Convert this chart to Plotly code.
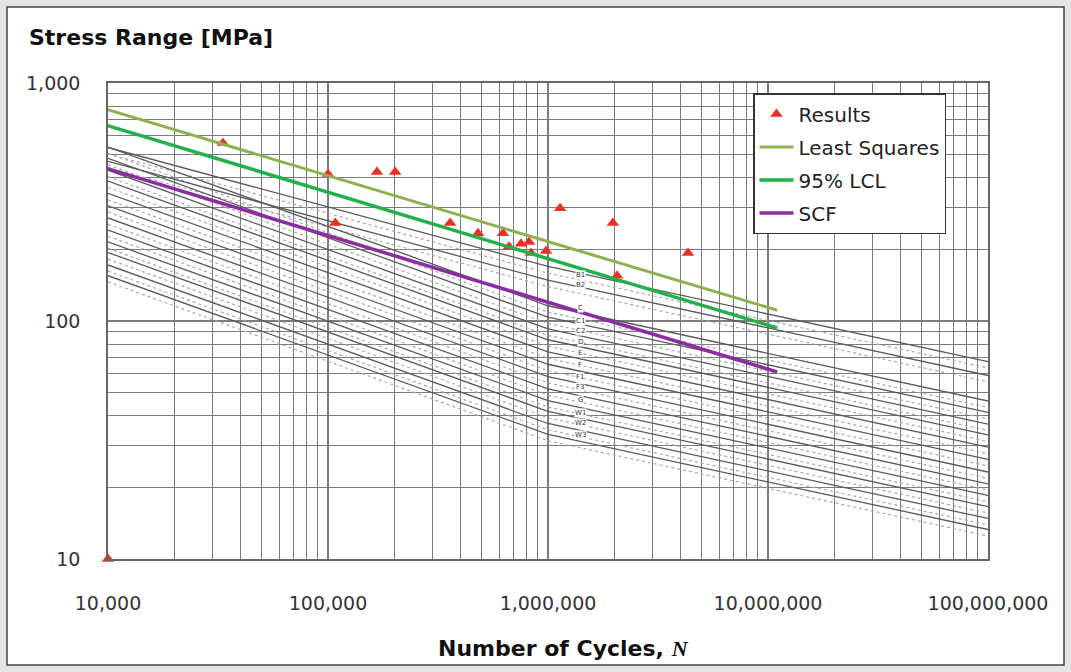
import math
import plotly.graph_objects as go

# ---------------- data ----------------
# Test results (cycles, stress range MPa)
res_N = [10000, 33300, 100000, 167000, 202000, 108000, 359000, 481000, 624000,
         665000, 754000, 820000, 838000, 980000, 1135000, 1973000, 2060000, 4330000]
res_S = [10, 560, 415, 423, 423, 258, 258, 234, 234,
         205, 211, 215, 193, 197, 298, 258, 155, 193]

# Fitted lines (end points)
ls_N = [9400, 11000000]
ls_S = [785, 111]
lcl_N = [9400, 11000000]
lcl_S = [673, 93.5]
scf_N = [9400, 11000000]
scf_S = [444, 61.1]

# Design S-N class curves: stress at N = 1e4, 1e6 (knee), 1e8
sn_names = ["B1", "B2", "C", "C1", "C2", "D", "E", "F", "F1", "F3", "G", "W1", "W2", "W3"]
sn_N = [1e4, 1e6, 1e8]
sn_solid = [
    [536, 169.5, 67.5], [469, 148.4, 59.0], [538, 115.9, 46.1], [482, 103.8, 41.3],
    [430, 92.6, 36.9], [387, 83.4, 33.2], [344, 74.1, 29.5], [305, 65.8, 26.2],
    [271, 58.4, 23.2], [241, 51.9, 20.7], [215, 46.3, 18.5], [194, 41.7, 16.6],
    [172, 37.1, 14.8], [155, 33.4, 13.3],
]
sn_dotted = [
    [504, 159, 63.5], [441, 139.5, 55.5], [506, 109, 43.3], [453, 97.6, 38.8],
    [404, 87.0, 34.7], [364, 78.4, 31.2], [323, 69.7, 27.7], [287, 61.9, 24.6],
    [255, 54.9, 21.8], [227, 48.8, 19.5], [202, 43.5, 17.4], [182, 39.2, 15.6],
    [162, 34.9, 13.9], [146, 31.4, 12.5],
]
# class label positions
lab_N = 1400000
lab_S = [156, 141.6, 113.5, 100, 90.8, 81.6, 73.4, 65.4, 58.2, 52.8, 46.6, 41.1, 37.3, 33.2]

x_ticks = [1e4, 1e5, 1e6, 1e7, 1e8]
x_ticktext = ["10,000", "100,000", "1,000,000", "10,000,000", "100,000,000"]
y_ticks = [10, 100, 1000]
y_ticktext = ["10", "100", "1,000"]

# ---------------- figure ----------------
FONT = "DejaVu Sans"
fig = go.Figure()

for vals in sn_dotted:
    fig.add_trace(go.Scatter(x=sn_N, y=vals, mode="lines", showlegend=False,
                             line=dict(color="#a8a8a8", width=1.2, dash="dot"),
                             hoverinfo="skip"))
for vals in sn_solid:
    fig.add_trace(go.Scatter(x=sn_N, y=vals, mode="lines", showlegend=False,
                             line=dict(color="#5a5a5a", width=1.3),
                             hoverinfo="skip"))

fig.add_trace(go.Scatter(x=res_N, y=res_S, mode="markers", name="Results", legendgroup="a",
                         marker=dict(symbol="triangle-up", size=11, color="#ec2f24"),
                         cliponaxis=False))
fig.add_trace(go.Scatter(x=ls_N, y=ls_S, mode="lines", name="Least Squares", legendgroup="b",
                         line=dict(color="#8db050", width=3)))
fig.add_trace(go.Scatter(x=lcl_N, y=lcl_S, mode="lines", name="95% LCL", legendgroup="c",
                         line=dict(color="#22b04b", width=3.5)))
fig.add_trace(go.Scatter(x=scf_N, y=scf_S, mode="lines", name="SCF", legendgroup="d",
                         line=dict(color="#8a2d9f", width=3.5)))

for name, s in zip(sn_names, lab_S):
    fig.add_annotation(x=math.log10(lab_N), y=math.log10(s), xref="x", yref="y",
                       text=name, showarrow=False,
                       font=dict(size=7, color="#333", family=FONT),
                       bgcolor="white", borderpad=0)

grid_col = "#7c7c7c"
fig.update_xaxes(type="log", range=[4, 8], tickvals=x_ticks, ticktext=x_ticktext,
                 showgrid=True, gridcolor=grid_col, gridwidth=1.6,
                 minor=dict(dtick="D1", showgrid=True, gridcolor=grid_col, gridwidth=1.4),
                 showline=True, linecolor="#666", linewidth=1.5, mirror=True,
                 ticks="", ticklabelstandoff=26, zeroline=False,
                 tickfont=dict(family=FONT, size=19, color="#333"))
fig.update_yaxes(type="log", range=[1, 3], tickvals=y_ticks, ticktext=y_ticktext,
                 showgrid=True, gridcolor=grid_col, gridwidth=1.6,
                 minor=dict(dtick="D1", showgrid=True, gridcolor=grid_col, gridwidth=1.4),
                 showline=True, linecolor="#666", linewidth=1.5, mirror=True,
                 ticks="", ticklabelstandoff=22, zeroline=False,
                 tickfont=dict(family=FONT, size=19, color="#333"))

W, H = 1071, 672
L, R, T, B = 108, 83, 83, 113
pw, ph = W - L - R, H - T - B

def px(x):
    return (x - L) / pw

def py(y):
    return (H - B - y) / ph

fig.add_shape(type="rect", xref="paper", yref="paper", layer="below",
              x0=px(7), x1=px(1064), y0=py(665), y1=py(7),
              fillcolor="white", line=dict(color="#444", width=1.5))

fig.add_annotation(xref="paper", yref="paper", x=px(27), y=py(38), xanchor="left",
                   yanchor="middle", showarrow=False, text="<b>Stress Range [MPa]</b>",
                   font=dict(family=FONT, size=22, color="#111"))
fig.add_annotation(xref="paper", yref="paper", x=px(563), y=py(648), xanchor="center",
                   yanchor="middle", showarrow=False,
                   text="<b>Number of Cycles, <span style='font-family:Liberation Serif'><i>N</i></span></b>",
                   font=dict(family=FONT, size=22, color="#111"))

fig.update_layout(
    width=W, height=H, margin=dict(l=L, r=R, t=T, b=B, pad=0),
    paper_bgcolor="#e4e4e4", plot_bgcolor="white",
    showlegend=True,
    legend=dict(x=px(753), y=py(93), xanchor="left", yanchor="top",
                bgcolor="white", bordercolor="#333", borderwidth=1.5,
                font=dict(family=FONT, size=20, color="#222"),
                tracegroupgap=4, itemwidth=34),
)

fig.write_html("out.html", config={"displayModeBar": False},
               post_script="document.body.style.margin='0';document.body.style.overflow='hidden';")
